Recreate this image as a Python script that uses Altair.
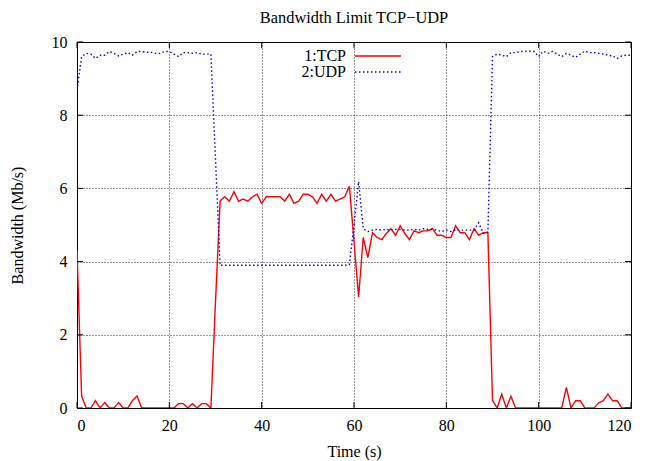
import altair as alt
import pandas as pd

# ---- data ----
time_s = list(range(121))

tcp_mbps = [
    4.31, 0.32, 0.00, 0.00, 0.20, 0.00, 0.15, 0.00, 0.00, 0.15,
    0.00, 0.00, 0.20, 0.33, 0.00, 0.00, 0.00, 0.00, 0.00, 0.00,
    0.00, 0.00, 0.12, 0.12, 0.00, 0.12, 0.00, 0.12, 0.12, 0.00,
    2.90, 5.66, 5.77, 5.65, 5.91, 5.65, 5.71, 5.65, 5.77, 5.84,
    5.59, 5.77, 5.77, 5.77, 5.77, 5.65, 5.84, 5.59, 5.65, 5.84,
    5.84, 5.77, 5.59, 5.84, 5.65, 5.84, 5.65, 5.71, 5.77, 6.06,
    4.55, 3.03, 4.66, 4.11, 4.79, 4.66, 4.60, 4.77, 4.90, 4.72,
    4.98, 4.77, 4.60, 4.84, 4.79, 4.84, 4.84, 4.90, 4.72, 4.72,
    4.66, 4.66, 4.98, 4.79, 4.79, 4.60, 4.90, 4.72, 4.79, 4.79,
    0.21, 0.00, 0.38, 0.00, 0.32, 0.00, 0.00, 0.00, 0.00, 0.00,
    0.00, 0.00, 0.00, 0.00, 0.00, 0.00, 0.56, 0.00, 0.20, 0.20,
    0.00, 0.00, 0.00, 0.14, 0.20, 0.38, 0.20, 0.20, 0.00, 0.00,
    0.00,
]

udp_mbps = [
    8.68, 9.60, 9.69, 9.67, 9.55, 9.64, 9.64, 9.74, 9.69, 9.62,
    9.67, 9.71, 9.64, 9.74, 9.74, 9.72, 9.72, 9.69, 9.69, 9.74,
    9.74, 9.67, 9.60, 9.71, 9.71, 9.69, 9.71, 9.67, 9.67, 9.67,
    6.80, 3.90, 3.90, 3.90, 3.90, 3.90, 3.90, 3.90, 3.90, 3.90,
    3.90, 3.90, 3.90, 3.90, 3.90, 3.90, 3.90, 3.90, 3.90, 3.90,
    3.90, 3.90, 3.90, 3.90, 3.90, 3.90, 3.90, 3.90, 3.90, 3.92,
    5.00, 6.18, 4.90, 4.82, 4.86, 4.88, 4.86, 4.88, 4.86, 4.88,
    4.88, 4.86, 4.86, 4.88, 4.86, 4.90, 4.88, 4.88, 4.86, 4.82,
    4.86, 4.82, 4.86, 4.86, 4.86, 4.86, 4.86, 5.06, 4.77, 4.81,
    9.60, 9.67, 9.64, 9.60, 9.71, 9.71, 9.74, 9.75, 9.75, 9.74,
    9.60, 9.75, 9.69, 9.74, 9.67, 9.60, 9.69, 9.64, 9.58, 9.67,
    9.75, 9.71, 9.71, 9.69, 9.67, 9.64, 9.62, 9.55, 9.62, 9.64,
    9.64,
]

series_names = ["1:TCP", "2:UDP"]
series_colors = ["#ff0000", "#0000ff"]
x_ticks = [0, 20, 40, 60, 80, 100, 120]
y_ticks = [0, 2, 4, 6, 8, 10]

df = pd.DataFrame({
    "t": time_s + time_s,
    "bw": tcp_mbps + udp_mbps,
    "series": [series_names[0]] * len(time_s) + [series_names[1]] * len(time_s),
})

W, H = 554, 366
FONT = "Liberation Serif"

x_scale = alt.Scale(domain=[0, 120], nice=False, zero=False)
y_scale = alt.Scale(domain=[0, 10], nice=False)
x_axis = alt.Axis(values=x_ticks, title="Time (s)", format="d")
y_axis = alt.Axis(values=y_ticks, title="Bandwidth (Mb/s)", format="d")

# legend: label on the left, line sample drawn to the right of it (gnuplot style)
legend = alt.Legend(
    title=None, orient="none", legendX=253, legendY=6,
    symbolType="M8.5,0H31.5", symbolSize=16, symbolStrokeWidth=1.5,
    labelFont=FONT, labelFontSize=16, labelColor="black",
    labelAlign="right", labelOffset=0, padding=0, rowPadding=0,
)

lines = alt.Chart(df).mark_line(strokeWidth=1.4, clip=True).encode(
    x=alt.X("t:Q", scale=x_scale, axis=x_axis),
    y=alt.Y("bw:Q", scale=y_scale, axis=y_axis),
    color=alt.Color("series:N", scale=alt.Scale(domain=series_names, range=series_colors),
                    legend=legend),
    strokeDash=alt.StrokeDash("series:N",
                              scale=alt.Scale(domain=series_names, range=[[1, 0], [1.5, 2.5]]),
                              legend=legend),
)

xt_df = pd.DataFrame({"t": x_ticks})
yt_df = pd.DataFrame({"bw": y_ticks})

x_ticks_bottom = alt.Chart(xt_df).mark_rule(color="black", strokeWidth=1).encode(
    x=alt.X("t:Q", scale=x_scale, axis=x_axis), y=alt.value(H), y2=alt.value(H - 6))
x_ticks_top = alt.Chart(xt_df).mark_rule(color="black", strokeWidth=1).encode(
    x=alt.X("t:Q", scale=x_scale, axis=x_axis), y=alt.value(0), y2=alt.value(6))
y_ticks_left = alt.Chart(yt_df).mark_rule(color="black", strokeWidth=1).encode(
    y=alt.Y("bw:Q", scale=y_scale, axis=y_axis), x=alt.value(0), x2=alt.value(6))
y_ticks_right = alt.Chart(yt_df).mark_rule(color="black", strokeWidth=1).encode(
    y=alt.Y("bw:Q", scale=y_scale, axis=y_axis), x=alt.value(W), x2=alt.value(W - 6))

chart = alt.layer(
    lines, x_ticks_bottom, x_ticks_top, y_ticks_left, y_ticks_right
).properties(
    width=W, height=H,
    title=alt.TitleParams("Bandwidth Limit TCP\u2212UDP", font=FONT, fontSize=16.4,
                          fontWeight="normal", color="black", anchor="middle", offset=8),
    autosize=alt.AutoSizeParams(type="none"),
    padding={"left": 69, "top": 34, "right": 7, "bottom": 53},
).configure_view(
    stroke="black", strokeWidth=1
).configure_axis(
    grid=True, gridColor="black", gridDash=[1, 2], gridOpacity=0.8, gridWidth=1,
    domain=False, ticks=False,
    labelFont=FONT, labelFontSize=16, labelColor="black",
    titleFont=FONT, titleFontSize=16, titleFontWeight="normal", titleColor="black",
).configure_axisX(
    labelPadding=9, titlePadding=10
).configure_axisY(
    labelPadding=10, titlePadding=26
)

chart.save("out.html", embed_options={"renderer": "svg", "actions": False})
